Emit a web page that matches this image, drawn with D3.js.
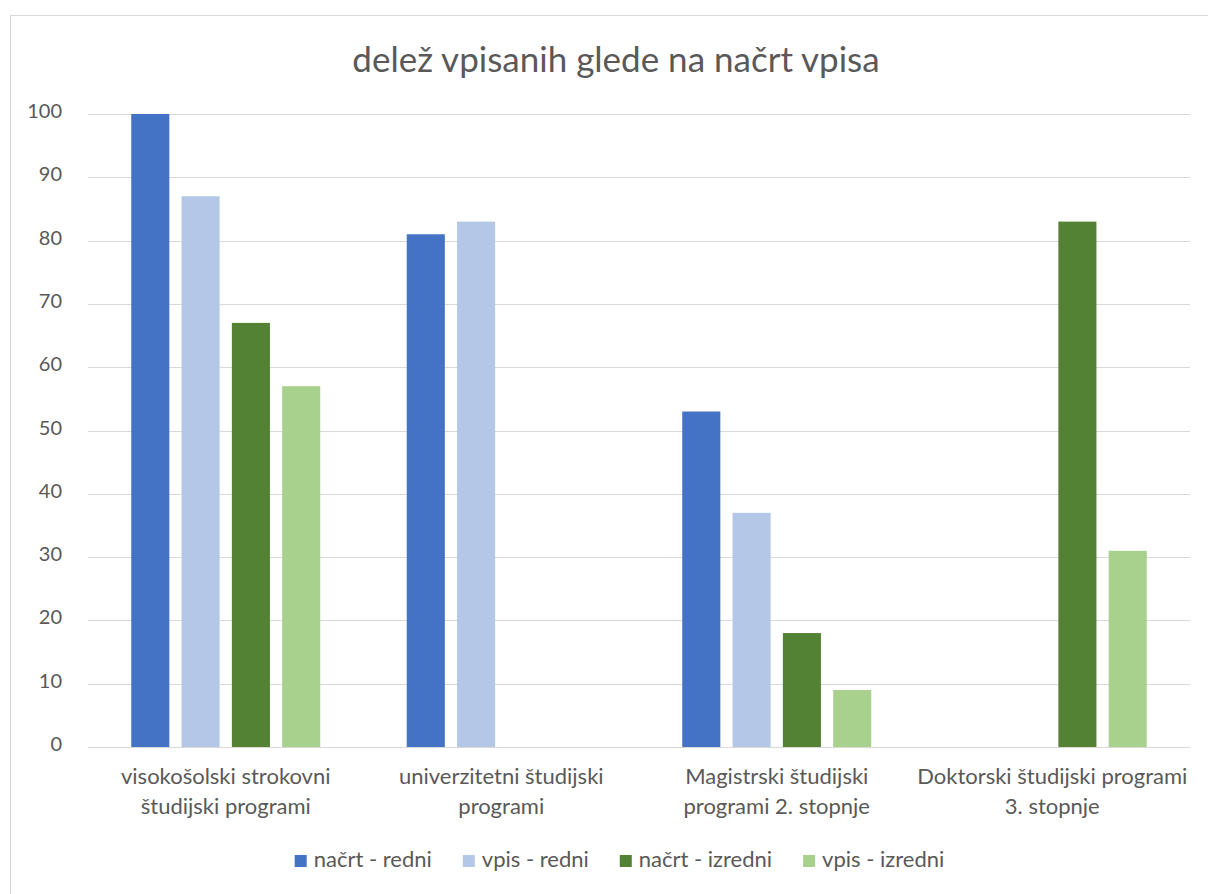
<!DOCTYPE html>
<html>
<head>
<meta charset="utf-8">
<script src="https://cdn.jsdelivr.net/npm/d3@7"></script>
<style>
  body { margin: 0; background: #fff; }
  text { font-family: Lato, "Noto Sans", sans-serif; fill: #595959; }
</style>
</head>
<body>
<div id="chart"></div>
<script>
const categories = [
    ["visokošolski strokovni", "študijski programi"],
    ["univerzitetni študijski", "programi"],
    ["Magistrski študijski", "programi 2. stopnje"],
    ["Doktorski študijski programi", "3. stopnje"]
];
const seriesNames = ["načrt - redni", "vpis - redni", "načrt - izredni", "vpis - izredni"];
const colors = ["#4472C4", "#B4C7E7", "#548235", "#A9D18E"];
const nacrtRedni = [100, 81, 53, 0];
const vpisRedni = [87, 83, 37, 0];
const nacrtIzredni = [67, 0, 18, 83];
const vpisIzredni = [57, 0, 9, 31];
const yTicks = [0, 10, 20, 30, 40, 50, 60, 70, 80, 90, 100];

const series = [nacrtRedni, vpisRedni, nacrtIzredni, vpisIzredni];

const width = 1208, height = 894;
const plotLeft = 88, plotRight = 1190, plotTop = 114, plotBottom = 747;

const svg = d3.select("#chart").append("svg")
    .attr("width", width)
    .attr("height", height);

// chart border
svg.append("rect")
    .attr("x", 10.5).attr("y", 15.5)
    .attr("width", 1400).attr("height", 1000)
    .attr("fill", "none")
    .attr("stroke", "#D9D9D9");

svg.append("text")
    .attr("x", 616).attr("y", 72)
    .attr("text-anchor", "middle")
    .style("font-size", "35px")
    .text("delež vpisanih glede na načrt vpisa");

const x0 = d3.scaleBand()
    .domain(d3.range(categories.length))
    .range([plotLeft, plotRight]);

const x1 = d3.scaleBand()
    .domain(d3.range(seriesNames.length))
    .range([-94.5, 94.5])
    .paddingInner(0.243);

const y = d3.scaleLinear().domain([0, 100]).range([plotBottom, plotTop]);

// gridlines
svg.append("g")
    .selectAll("line")
    .data(yTicks)
    .join("line")
    .attr("x1", plotLeft).attr("x2", plotRight)
    .attr("y1", d => Math.round(y(d)) + 0.5)
    .attr("y2", d => Math.round(y(d)) + 0.5)
    .attr("stroke", "#D9D9D9")
    .attr("stroke-width", 1);

// y labels
svg.append("g")
    .selectAll("text")
    .data(yTicks)
    .join("text")
    .attr("x", 62)
    .attr("y", d => y(d) + 4)
    .attr("text-anchor", "end")
    .style("font-size", "20px")
    .text(d => d);

// bars
const groups = svg.append("g")
    .selectAll("g")
    .data(categories.map((c, i) => i))
    .join("g")
    .attr("transform", i => `translate(${x0(i) + x0.bandwidth() / 2},0)`);

groups.selectAll("rect")
    .data(i => series.map((s, k) => ({k: k, v: s[i]})).filter(d => d.v > 0))
    .join("rect")
    .attr("x", d => x1(d.k))
    .attr("width", x1.bandwidth())
    .attr("y", d => y(d.v))
    .attr("height", d => y(0) - y(d.v))
    .attr("fill", d => colors[d.k]);

// category labels
const catLabels = svg.append("g")
    .selectAll("text")
    .data(categories)
    .join("text")
    .attr("text-anchor", "middle")
    .style("font-size", "22px")
    .attr("transform", (d, i) => `translate(${x0(i) + x0.bandwidth() / 2},784)`);

catLabels.selectAll("tspan")
    .data(d => d)
    .join("tspan")
    .attr("x", 0)
    .attr("y", (d, j) => j * 30)
    .text(d => d);

// legend
const legend = svg.append("g");
const items = legend.selectAll("g")
    .data(seriesNames)
    .join("g");
items.append("rect")
    .attr("width", 12).attr("height", 12)
    .attr("y", 855)
    .attr("fill", (d, i) => colors[i]);
items.append("text")
    .attr("x", 19).attr("y", 867)
    .style("font-size", "22px")
    .text(d => d);

let widths = [];
items.each(function() { widths.push(this.querySelector("text").getComputedTextLength() + 19); });
const gap = 31;
const total = d3.sum(widths) + gap * (widths.length - 1);
let cx = 619.5 - total / 2;
items.attr("transform", (d, i) => {
    const t = `translate(${cx},0)`;
    cx += widths[i] + gap;
    return t;
});
</script>
</body>
</html>
